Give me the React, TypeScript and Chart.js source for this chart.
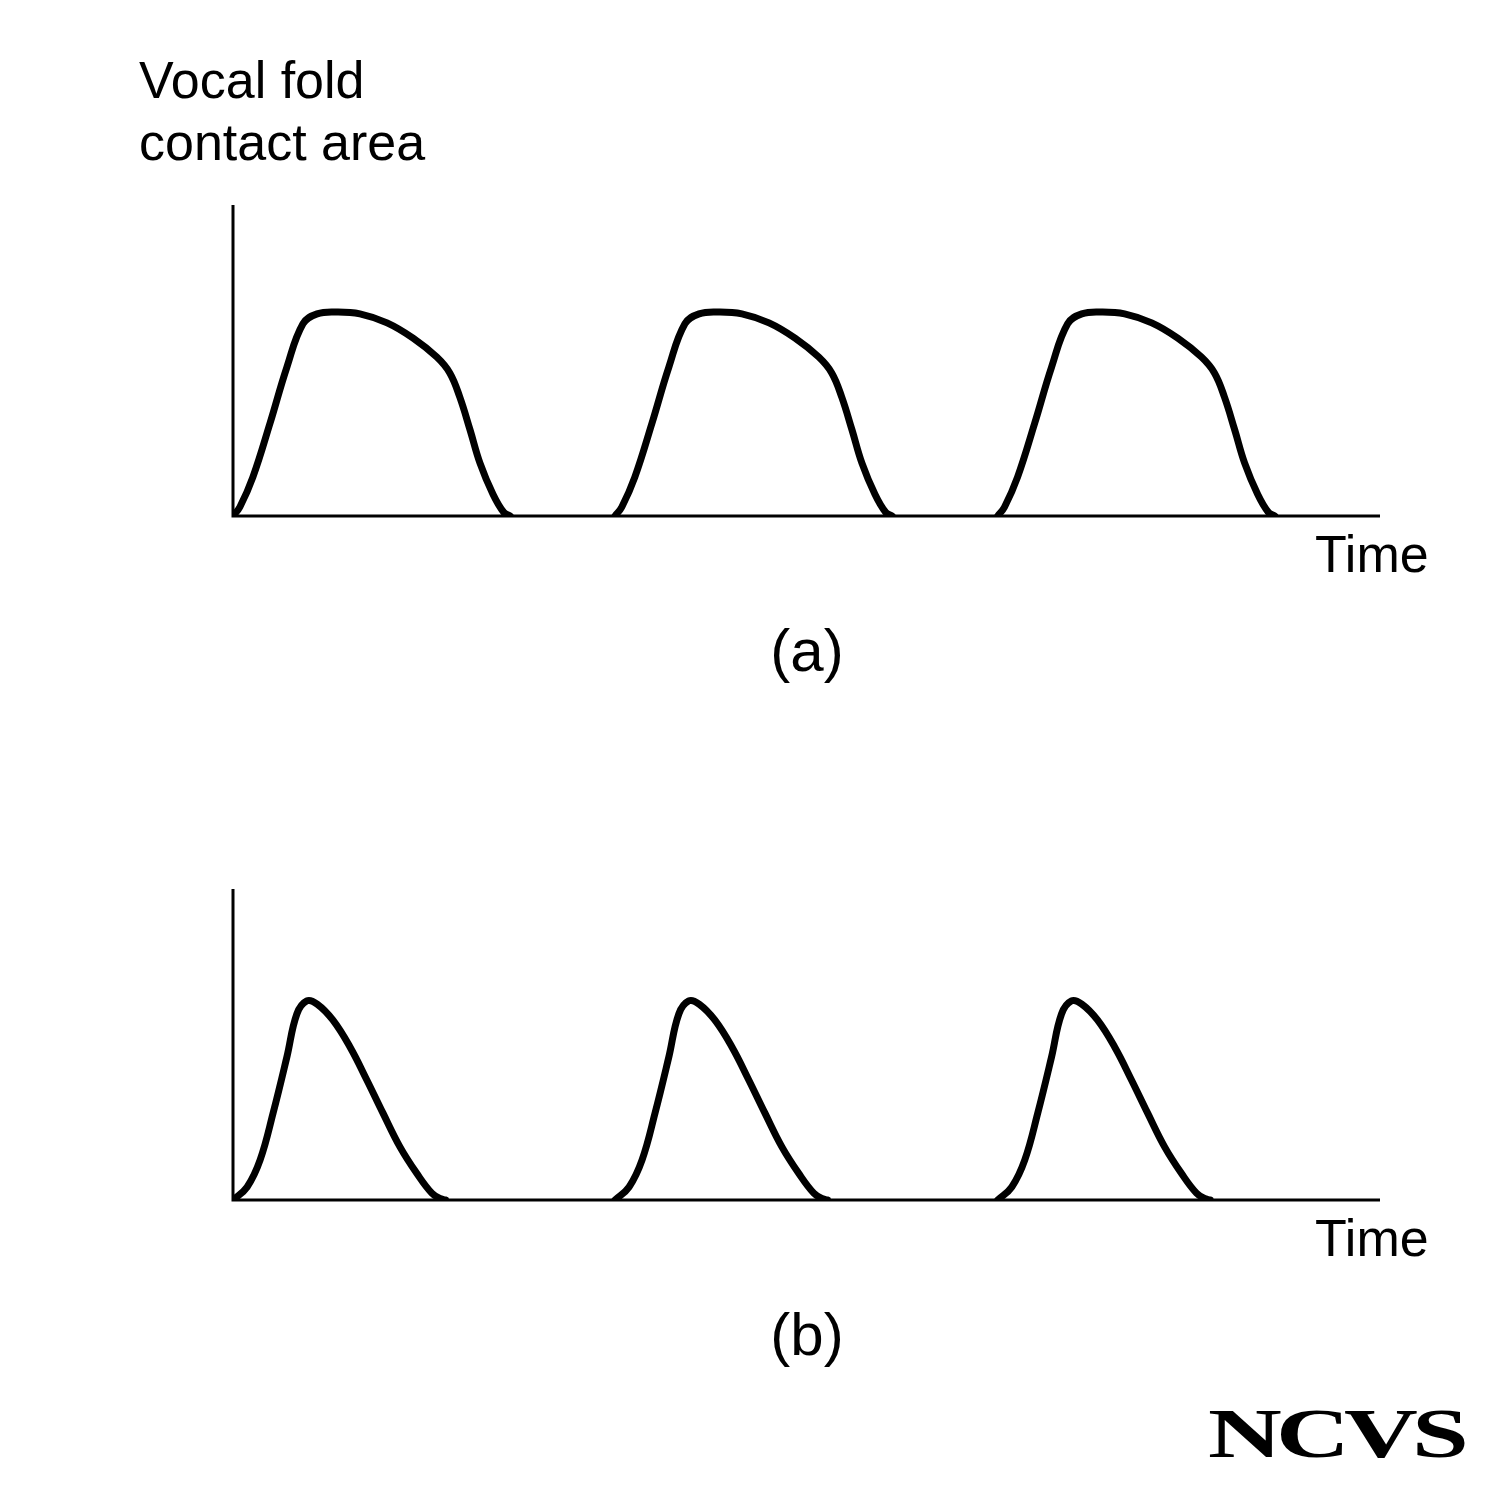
import React, { useEffect, useRef } from "react";
import { Chart, registerables } from "chart.js";

Chart.register(...registerables);

// Time in units of one glottal cycle; contact area in units of the axis height.
const cycleStarts = [0, 0.999, 2.0];
const timeAxisMax = 3.0;
const areaAxisMax = 1.0;

// Panel (a): long closed phase
const pulseATime = [0, 0.018, 0.052, 0.097, 0.141, 0.183, 0.22, 0.272, 0.332, 0.403, 0.471, 0.533, 0.567, 0.593, 0.62, 0.646, 0.68, 0.708, 0.725];
const pulseAArea = [0, 0.029, 0.125, 0.299, 0.479, 0.618, 0.65, 0.656, 0.65, 0.621, 0.572, 0.511, 0.46, 0.383, 0.277, 0.17, 0.07, 0.012, 0];

// Panel (b): short closed phase
const pulseBTime = [0, 0.037, 0.071, 0.105, 0.141, 0.167, 0.193, 0.22, 0.261, 0.306, 0.35, 0.392, 0.437, 0.481, 0.52, 0.543, 0.556];
const pulseBArea = [0, 0.042, 0.129, 0.28, 0.46, 0.598, 0.64, 0.63, 0.579, 0.492, 0.386, 0.28, 0.17, 0.085, 0.022, 0.004, 0];

const axisLabelY = ["Vocal fold", "contact area"];
const axisLabelX = "Time";
const panelLabels = ["(a)", "(b)"];
const logoText = "NCVS";

function buildSeries(times: number[], areas: number[]) {
  const pts: { x: number; y: number | null }[] = [];
  cycleStarts.forEach((s) => {
    times.forEach((t, i) => pts.push({ x: s + t, y: areas[i] }));
    pts.push({ x: s + times[times.length - 1] + 0.01, y: null });
  });
  return pts;
}

const axesPlugin = {
  id: "axesLines",
  beforeDatasetsDraw(chart: any) {
    const { ctx, chartArea } = chart;
    ctx.save();
    ctx.strokeStyle = "#000";
    ctx.lineWidth = 3;
    ctx.beginPath();
    ctx.moveTo(chartArea.left, chartArea.top);
    ctx.lineTo(chartArea.left, chartArea.bottom);
    ctx.lineTo(chartArea.right, chartArea.bottom);
    ctx.stroke();
    ctx.restore();
  },
};

function Panel({ times, areas, top }: { times: number[]; areas: number[]; top: number }) {
  const ref = useRef<HTMLCanvasElement | null>(null);
  useEffect(() => {
    if (!ref.current) return;
    const chart = new Chart(ref.current, {
      type: "line",
      data: {
        datasets: [
          {
            data: buildSeries(times, areas) as any,
            borderColor: "#000",
            borderWidth: 7,
            pointRadius: 0,
            fill: false,
            spanGaps: false,
            tension: 0.4,
            borderCapStyle: "round",
            borderJoinStyle: "round",
          },
        ],
      },
      options: {
        responsive: false,
        animation: false,
        devicePixelRatio: 1,
        layout: { padding: { left: 233, right: 120, top: 205, bottom: 184 } },
        plugins: { legend: { display: false }, tooltip: { enabled: false } },
        scales: {
          x: { type: "linear", min: 0, max: timeAxisMax, display: false },
          y: { type: "linear", min: 0, max: areaAxisMax, display: false },
        },
      },
      plugins: [axesPlugin],
    });
    return () => chart.destroy();
  }, []);
  return (
    <canvas
      ref={ref}
      width={1500}
      height={700}
      style={{ position: "absolute", left: 0, top, width: 1500, height: 700 }}
    />
  );
}

export default function App() {
  const sans = '"Liberation Sans", Arial, Helvetica, sans-serif';
  const txt = (extra: React.CSSProperties): React.CSSProperties => ({
    position: "absolute",
    fontFamily: sans,
    fontSize: 52,
    lineHeight: 1,
    color: "#000",
    whiteSpace: "nowrap",
    ...extra,
  });
  return (
    <div style={{ position: "absolute", left: 0, top: 0, width: 1500, height: 1491, background: "#fff", overflow: "hidden" }}>
      <Panel times={pulseATime} areas={pulseAArea} top={0} />
      <Panel times={pulseBTime} areas={pulseBArea} top={684} />
      <div style={txt({ left: 139, top: 54 })}>{axisLabelY[0]}</div>
      <div style={txt({ left: 139, top: 116 })}>{axisLabelY[1]}</div>
      <div style={txt({ left: 1315, top: 528 })}>{axisLabelX}</div>
      <div style={txt({ left: 1315, top: 1212 })}>{axisLabelX}</div>
      <div style={txt({ left: 707, width: 200, textAlign: "center", fontSize: 60, top: 621 })}>{panelLabels[0]}</div>
      <div style={txt({ left: 707, width: 200, textAlign: "center", fontSize: 60, top: 1305 })}>{panelLabels[1]}</div>
      <div
        style={{
          position: "absolute",
          left: 1208,
          top: 1399,
          fontFamily: '"Liberation Serif", "Times New Roman", serif',
          fontSize: 70,
          fontWeight: "bold",
          letterSpacing: -4,
          lineHeight: 1,
          color: "#000",
          transform: "scaleX(1.46)",
          transformOrigin: "left top",
          whiteSpace: "nowrap",
        }}
      >
        {logoText}
      </div>
    </div>
  );
}
